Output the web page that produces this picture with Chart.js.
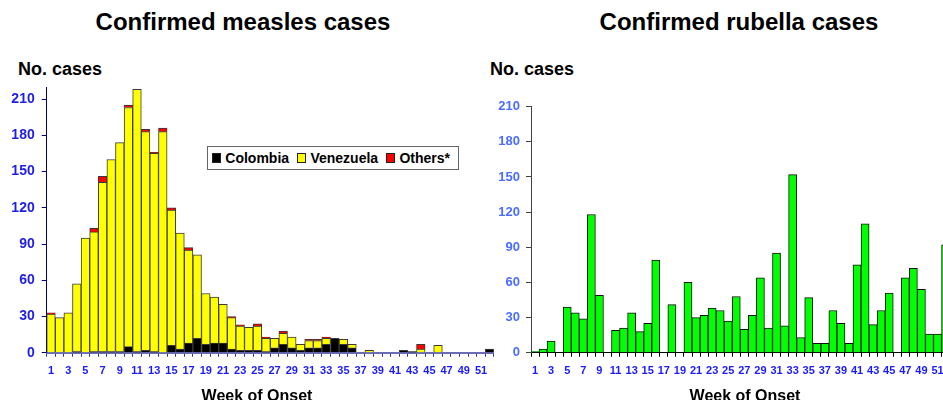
<!DOCTYPE html>
<html lang="en">
  <head>
    <meta charset="UTF-8" />
    <title>Confirmed measles and rubella cases</title>
    <script src="https://cdn.jsdelivr.net/npm/chart.js"></script>
    <style>
      body {
        margin: 0;
        padding: 0;
        width: 943px;
        height: 400px;
        overflow: hidden;
        position: relative;
        background: #fff;
        font-family: "Liberation Sans", Arial, sans-serif;
        font-weight: bold;
        color: #000;
      }
      .title {
        position: absolute;
        top: 9px;
        font-size: 24px;
        line-height: 26px;
        text-align: center;
        width: 400px;
        white-space: nowrap;
      }
      .ylabel {
        position: absolute;
        top: 59px;
        font-size: 18px;
        line-height: 20px;
        white-space: nowrap;
      }
      .xlabel {
        position: absolute;
        top: 387px;
        font-size: 16px;
        line-height: 18px;
        width: 200px;
        text-align: center;
        white-space: nowrap;
      }
      .wrap {
        position: absolute;
        top: 0;
        height: 400px;
      }
      .legend {
        position: absolute;
        left: 207px;
        top: 146px;
        width: 246px;
        height: 22px;
        border: 1px solid #666;
        background: #fff;
        display: flex;
        align-items: center;
        font-size: 14px;
        padding-left: 4px;
        box-sizing: content-box;
      }
      .legend .box {
        width: 8px;
        height: 8px;
        border: 1px solid #222;
        margin-right: 4px;
      }
      .legend span.txt {
        margin-right: 8px;
      }
    </style>
  </head>
  <body>
    <div class="title" style="left: 43px">Confirmed measles cases</div>
    <div class="title" style="left: 539px">Confirmed rubella cases</div>
    <div class="ylabel" style="left: 18px">No. cases</div>
    <div class="ylabel" style="left: 490px">No. cases</div>

    <div class="wrap" style="left: 0; width: 500px">
      <canvas id="measlesChart" width="500" height="400"></canvas>
    </div>
    <div class="wrap" style="left: 480px; width: 480px">
      <canvas id="rubellaChart" width="480" height="400"></canvas>
    </div>

    <div class="legend" id="legend"></div>

    <div class="xlabel" style="left: 157px">Week of Onset</div>
    <div class="xlabel" style="left: 645px">Week of Onset</div>

    <script>
      // weeks 1..52
      const weeks = Array.from({ length: 52 }, (_, i) => String(i + 1));

      const colombia = [0, 0, 0, 1, 0, 1, 1, 1, 1, 5, 1, 2, 1, 0, 6, 3, 8, 12, 7, 8, 8, 3, 2, 2, 2, 1,
        4, 7, 4, 2, 4, 4, 7, 12, 7, 4, 0, 0, 0, 0, 0, 2, 1, 0, 0, 0, 0, 0, 0, 0, 0, 3];
      const venezuela = [32, 29, 33, 56, 95, 99, 140, 159, 173, 198, 217, 181, 164, 183, 112, 96, 77, 69, 42, 38, 32, 26, 20, 19, 20, 11,
        8, 9, 9, 5, 6, 6, 5, 0, 4, 3, 0, 2, 0, 0, 0, 0, 0, 3, 0, 6, 0, 0, 0, 0, 0, 0];
      const others = [1, 0, 0, 0, 0, 3, 5, 0, 0, 2, 0, 2, 1, 3, 2, 0, 2, 0, 0, 0, 0, 1, 1, 0, 2, 1,
        0, 2, 0, 0, 1, 1, 1, 0, 0, 0, 0, 0, 0, 0, 0, 0, 0, 4, 0, 0, 0, 0, 0, 0, 0, 0];

      const rubella = [1, 3, 10, 0, 39, 34, 29, 118, 49, 0, 19, 21, 34, 18, 25, 79, 0, 41, 0, 60, 30, 32, 38, 36, 27, 48,
        20, 32, 64, 21, 85, 23, 152, 13, 47, 8, 8, 36, 25, 8, 75, 110, 24, 36, 51, 0, 64, 72, 54, 16, 16, 92];

      const yTicks = [0, 30, 60, 90, 120, 150, 180, 210];

      const legendItems = [
        { label: "Colombia", color: "#000000" },
        { label: "Venezuela", color: "#ffff00" },
        { label: "Others*", color: "#ff0000" },
      ];

      const FONT = "'Liberation Sans', Arial, sans-serif";

      // zero weeks are left empty so no outline is drawn
      function blanks(arr) {
        return arr.map((v) => (v === 0 ? null : v));
      }

      function fixedBox(size) {
        return (scale) => {
          if (scale.isHorizontal()) scale.height = size;
          else scale.width = size;
        };
      }

      function axes(opts) {
        return {
          x: {
            stacked: true,
            afterFit: fixedBox(47.3),
            border: { color: opts.xLine, width: opts.xLineWidth },
            grid: {
              offset: true,
              drawOnChartArea: false,
              drawTicks: true,
              tickLength: 4,
              color: opts.xTick,
            },
            ticks: {
              autoSkip: false,
              maxRotation: 0,
              padding: 7.5,
              color: opts.xText,
              font: { family: FONT, size: 11, weight: "bold" },
              callback: (v, i) => (i % 2 === 0 ? weeks[i] : ""),
            },
          },
          y: {
            stacked: true,
            min: 0,
            max: opts.max,
            afterFit: fixedBox(opts.yWidth),
            afterBuildTicks: (scale) => {
              scale.ticks = yTicks.map((v) => ({ value: v }));
            },
            border: { color: opts.yLine, width: 1 },
            grid: {
              drawOnChartArea: false,
              drawTicks: true,
              tickLength: 5,
              color: opts.yLine,
            },
            ticks: {
              padding: opts.yPad,
              color: opts.yText,
              font: { family: FONT, size: opts.ySize, weight: "bold" },
            },
          },
        };
      }

      const common = {
        responsive: false,
        animation: false,
        plugins: { legend: { display: false }, tooltip: { enabled: false } },
      };

      function drawMeasles() {
        const ctx = document.getElementById("measlesChart").getContext("2d");
        const bar = { barPercentage: 1, categoryPercentage: 1, borderWidth: 1, borderColor: "#3a3a3a" };
        new Chart(ctx, {
          type: "bar",
          data: {
            labels: weeks,
            datasets: [
              { label: "Colombia", data: blanks(colombia), backgroundColor: "#000000", ...bar },
              { label: "Venezuela", data: blanks(venezuela), backgroundColor: "#ffff00", ...bar },
              { label: "Others*", data: blanks(others), backgroundColor: "#ff0000", ...bar },
            ],
          },
          options: {
            ...common,
            layout: { padding: { top: 87, right: 6.1, left: 0, bottom: 0 } },
            scales: axes({
              max: 220,
              yWidth: 46.7,
              ySize: 14,
              yPad: 7,
              xLine: "#6c6cb4",
              xLineWidth: 2,
              xTick: "#2a2acc",
              xText: "#1a1aff",
              yLine: "#000080",
              yText: "#1e1ee6",
            }),
          },
        });
      }

      function drawRubella() {
        const ctx = document.getElementById("rubellaChart").getContext("2d");
        new Chart(ctx, {
          type: "bar",
          data: {
            labels: weeks,
            datasets: [
              {
                label: "Rubella",
                data: blanks(rubella),
                backgroundColor: "#00ff00",
                borderColor: "#111",
                borderWidth: 1,
                barPercentage: 1,
                categoryPercentage: 1,
              },
            ],
          },
          options: {
            ...common,
            layout: { padding: { top: 106.7, right: 10.4, left: 0, bottom: 0 } },
            scales: axes({
              max: 210,
              yWidth: 51,
              ySize: 13,
              yPad: 6,
              xLine: "#000000",
              xLineWidth: 1,
              xTick: "#000000",
              xText: "#1a1aff",
              yLine: "#444444",
              yText: "#4a6cff",
            }),
          },
        });
      }

      function buildLegend() {
        const el = document.getElementById("legend");
        legendItems.forEach((item) => {
          const box = document.createElement("span");
          box.className = "box";
          box.style.background = item.color;
          const txt = document.createElement("span");
          txt.className = "txt";
          txt.textContent = item.label;
          el.appendChild(box);
          el.appendChild(txt);
        });
      }

      buildLegend();
      drawMeasles();
      drawRubella();
    </script>
  </body>
</html>
